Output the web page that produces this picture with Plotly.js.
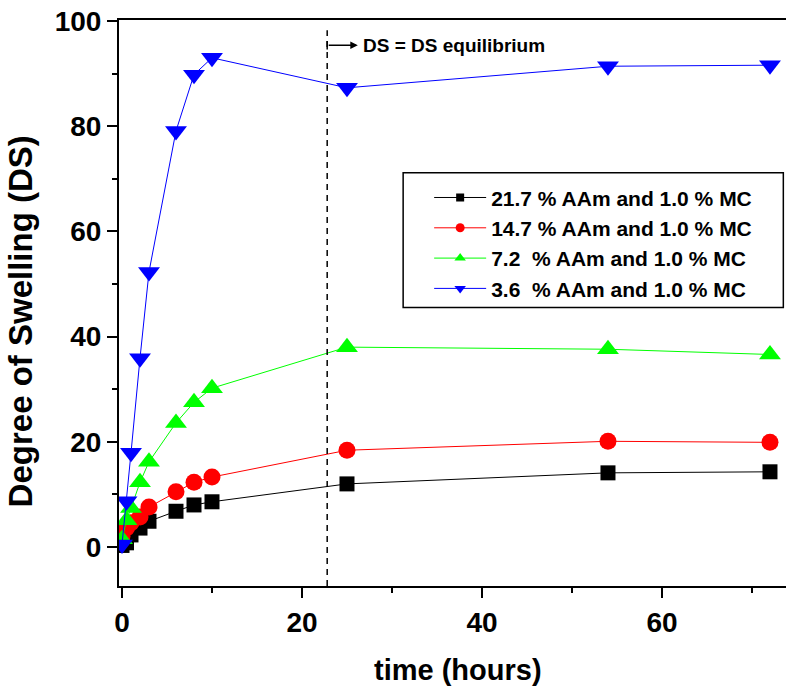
<!DOCTYPE html>
<html>
<head>
<meta charset="utf-8">
<script src="https://cdn.plot.ly/plotly-3.0.1.min.js"></script>
<style>html,body{margin:0;padding:0;background:#fff;}#chart{width:786px;height:693px;}</style>
</head>
<body>
<div id="chart"></div>
<script>
// time in hours
const time = [0, 0.5, 1, 2, 3, 6, 8, 10, 25, 54, 72];
// Degree of swelling per composition
const ds_21_7 = [0.3, 0.8, 2.3, 3.6, 4.9, 6.8, 8.0, 8.6, 12.0, 14.1, 14.3];
const ds_14_7 = [2.0, 3.6, 4.6, 5.7, 7.6, 10.5, 12.3, 13.3, 18.4, 20.1, 19.9];
const ds_7_2  = [1.5, 5.1, 7.4, 12.3, 16.2, 23.6, 27.5, 30.2, 38.0, 37.6, 36.6];
const ds_3_6  = [0.5, 8.7, 17.9, 35.9, 52.3, 79.1, 89.8, 93.0, 87.3, 91.4, 91.6];
const seriesNames = [
  "21.7 % AAm and 1.0 % MC",
  "14.7 % AAm and 1.0 % MC",
  "7.2\u00a0\u00a0% AAm and 1.0 % MC",
  "3.6\u00a0\u00a0% AAm and 1.0 % MC"
];
const equilibriumTime = 22.8;
const annotationText = "DS = DS equilibrium";
const xTitle = "time (hours)";
const yTitle = "Degree of Swelling (DS)";

const F = "Liberation Sans, Arial, sans-serif";

const colors = ['#000000', '#ff0000', '#00ff00', '#0000ff'];
const symbols = ['square', 'circle', 'triangle-up', 'triangle-down'];
const sizes = [15, 17, 19, 19];
const legendSizes = [8, 9, 10, 10];
const series = [ds_21_7, ds_14_7, ds_7_2, ds_3_6];

const data = [];
series.forEach((y, i) => {
  data.push({
    x: time, y: y, name: seriesNames[i], type: 'scatter', mode: 'lines+markers',
    showlegend: false,
    line: {color: colors[i], width: 1},
    marker: {color: colors[i], symbol: symbols[i], size: sizes[i], line: {width: 0}}
  });
});
// legend entries (small symbols as in the reference legend)
series.forEach((y, i) => {
  data.push({
    x: [null], y: [null], name: seriesNames[i], type: 'scatter', mode: 'lines+markers',
    showlegend: true,
    line: {color: colors[i], width: 1},
    marker: {color: colors[i], symbol: symbols[i], size: legendSizes[i], line: {width: 0}}
  });
});

const layout = {
  width: 786, height: 693,
  margin: {l: 119, r: 0, t: 20, b: 107},
  paper_bgcolor: '#fff', plot_bgcolor: '#fff',
  showlegend: true,
  legend: {
    x: 0.465, y: 0.722, xanchor: 'left', yanchor: 'top',
    bgcolor: 'rgba(0,0,0,0)', borderwidth: 0,
    font: {family: F, size: 21, color: '#000', weight: 700},
    itemwidth: 52
  },
  xaxis: {
    range: [-0.333, 73.78],
    showgrid: false, zeroline: false,
    showline: true, linecolor: '#000', linewidth: 2, mirror: true,
    ticks: 'outside', ticklen: 10, tickwidth: 2, tickcolor: '#000',
    dtick: 20, tick0: 0,
    minor: {dtick: 10, ticks: 'outside', ticklen: 5, tickwidth: 2, tickcolor: '#000'},
    tickfont: {family: F, size: 28, color: '#000', weight: 700},
    title: {text: ''}
  },
  yaxis: {
    range: [-7.41, 100.19],
    showgrid: false, zeroline: false,
    showline: true, linecolor: '#000', linewidth: 2, mirror: true,
    ticks: 'outside', ticklen: 10, tickwidth: 2, tickcolor: '#000',
    dtick: 20, tick0: 0,
    minor: {dtick: 10, ticks: 'outside', ticklen: 5, tickwidth: 2, tickcolor: '#000'},
    tickfont: {family: F, size: 28, color: '#000', weight: 700},
    title: {text: ''}
  },
  shapes: [
    {type: 'line', xref: 'x', yref: 'paper', x0: equilibriumTime, x1: equilibriumTime, y0: 0, y1: 0.982,
     line: {color: '#000', width: 1.5, dash: '6px,5px'}},
    {type: 'rect', xref: 'paper', yref: 'paper', x0: 0.426, x1: 0.996, y0: 0.492, y1: 0.73,
     line: {color: '#000', width: 1.5}, fillcolor: 'rgba(0,0,0,0)'},
    {type: 'line', xref: 'x', yref: 'y', x0: equilibriumTime, x1: equilibriumTime, y0: 94.6, y1: 96.2,
     line: {color: '#000', width: 1.5}}
  ],
  annotations: [
    {xref: 'x', yref: 'y', x: 26.2, y: 95.4, axref: 'x', ayref: 'y', ax: equilibriumTime, ay: 95.4,
     text: '', showarrow: true, arrowhead: 2, arrowsize: 1, arrowwidth: 1.5, arrowcolor: '#000'},
    {xref: 'x', yref: 'y', x: 26.6, y: 95.4, xanchor: 'left', yanchor: 'middle', showarrow: false,
     text: annotationText, font: {family: F, size: 19, color: '#000', weight: 700}},
    {xref: 'paper', yref: 'paper', x: 0.508, y: -0.148, xanchor: 'center', yanchor: 'middle', showarrow: false,
     text: xTitle, font: {family: F, size: 29, color: '#000', weight: 700}},
    {xref: 'paper', yref: 'paper', x: -0.148, y: 0.468, xanchor: 'center', yanchor: 'middle', showarrow: false,
     textangle: -90, text: yTitle, font: {family: F, size: 33, color: '#000', weight: 700}}
  ]
};

Plotly.newPlot('chart', data, layout, {displayModeBar: false, staticPlot: true});
</script>
</body>
</html>
